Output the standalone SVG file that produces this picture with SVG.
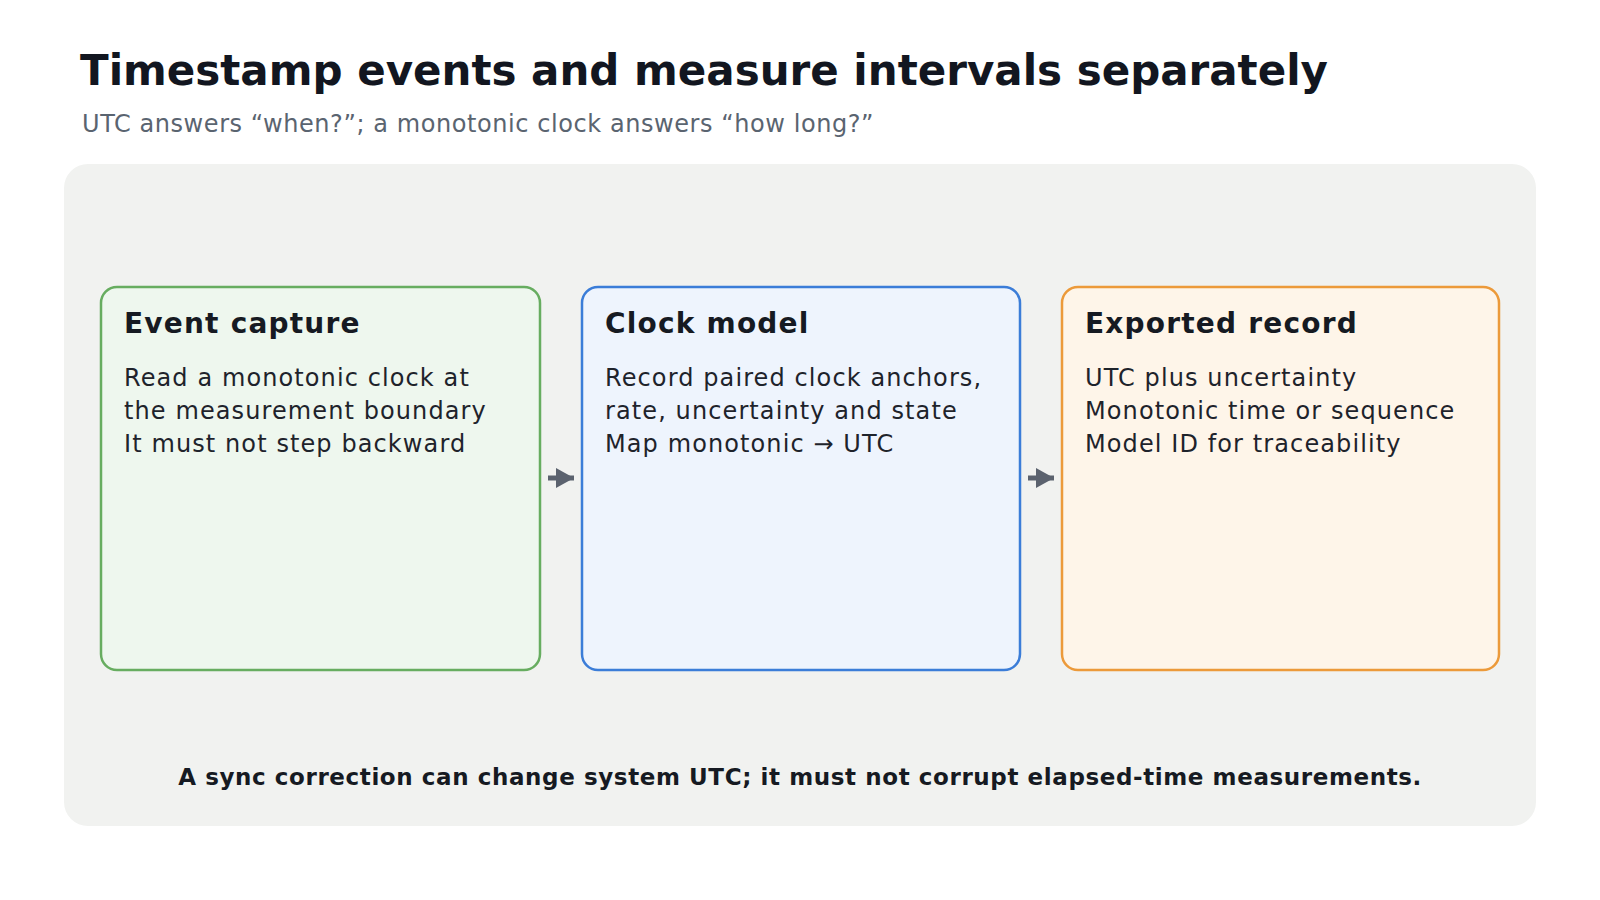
<svg xmlns="http://www.w3.org/2000/svg" width="1600" height="900" viewBox="0 0 1600 900">
<defs>
<style>
text{font-family:"DejaVu Sans","Liberation Sans",sans-serif;fill:#161a22}
.title{font-size:42px;font-weight:bold;fill:#121620;letter-spacing:0px}
.sub{font-size:24px;fill:#5a6470;letter-spacing:0.57px}
.h{font-size:28px;font-weight:bold;letter-spacing:1.2px}
.b{font-size:24px;fill:#1e232b;letter-spacing:1.1px}
.foot{font-size:23px;font-weight:bold;text-anchor:middle;letter-spacing:0.6px}
.box{stroke-width:2.5}
.conn{stroke:#5b626e;stroke-width:5;fill:none}
</style>
<marker id="ah" markerUnits="userSpaceOnUse" markerWidth="18" markerHeight="20" refX="18" refY="10" orient="auto">
<path d="M0,0 L18,10 L0,20 Z" fill="#5b626e"/>
</marker>
</defs>
<rect width="1600" height="900" fill="#ffffff"/>
<text class="title" x="80" y="85">Timestamp events and measure intervals separately</text>
<text class="sub" x="82" y="132">UTC answers “when?”; a monotonic clock answers “how long?”</text>
<rect id="panel" x="64" y="164" width="1472" height="662" rx="24" fill="#f1f2f0"/>
<g id="node-event">
<rect class="box" x="101" y="287" width="439" height="383" rx="16" fill="#eef7ee" stroke="#67ad60"/>
<text class="h" x="124" y="333">Event capture</text>
<text class="b" x="124" y="386">Read a monotonic clock at</text>
<text class="b" x="124" y="419">the measurement boundary</text>
<text class="b" x="124" y="452">It must not step backward</text>
</g>
<g id="node-clock">
<rect class="box" x="582" y="287" width="438" height="383" rx="16" fill="#eef4fd" stroke="#3b7dd8"/>
<text class="h" x="605" y="333">Clock model</text>
<text class="b" x="605" y="386">Record paired clock anchors,</text>
<text class="b" x="605" y="419">rate, uncertainty and state</text>
<text class="b" x="605" y="452">Map monotonic → UTC</text>
</g>
<g id="node-export">
<rect class="box" x="1062" y="287" width="437" height="383" rx="16" fill="#fef5e9" stroke="#ec9a3a"/>
<text class="h" x="1085" y="333">Exported record</text>
<text class="b" x="1085" y="386">UTC plus uncertainty</text>
<text class="b" x="1085" y="419">Monotonic time or sequence</text>
<text class="b" x="1085" y="452">Model ID for traceability</text>
</g>
<g id="connectors">
<line class="conn" x1="548" y1="478" x2="574" y2="478" marker-end="url(#ah)"/>
<line class="conn" x1="1028" y1="478" x2="1054" y2="478" marker-end="url(#ah)"/>
</g>
<text class="foot" x="800" y="785">A sync correction can change system UTC; it must not corrupt elapsed-time measurements.</text>
</svg>
